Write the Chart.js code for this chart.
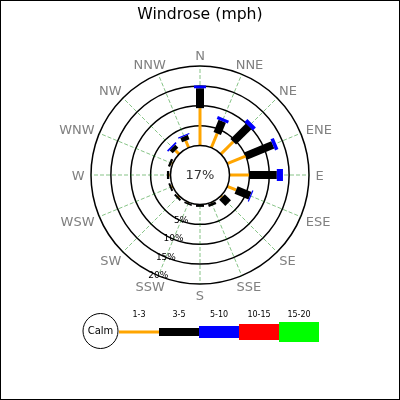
<!DOCTYPE html>
<html>
<head>
<meta charset="utf-8">
<script src="https://cdn.jsdelivr.net/npm/chart.js@4.4.1/dist/chart.umd.min.js"></script>
<style>
  html, body { margin: 0; padding: 0; background: #fff; }
  canvas { display: block; }
</style>
</head>
<body>
<canvas id="c" width="400" height="400"></canvas>
<script>
// ---- data ----
const directions = ['N','NNE','NE','ENE','E','ESE','SE','SSE','S','SSW','SW','WSW','W','WNW','NW','NNW'];
const speedBins = ['1-3','3-5','5-10','10-15','15-20'];
const speed1to3   = [9.4, 3.9, 4.4, 5.0, 4.9, 2.4, 0.4, 0.2, 0.1, 0.2, 0.3, 0.3, 0.3, 0.3, 1.3, 1.9];
const speed3to5   = [5.0, 3.3, 5.5, 7.4, 7.0, 3.8, 2.2, 0.7, 0.5, 0.4, 0.5, 0.5, 0.6, 0.6, 1.1, 1.2];
const speed5to10  = [0.7, 0.8, 1.05, 0.9, 1.55, 0.3, 0, 0, 0, 0, 0, 0, 0, 0, 0.4, 0.3];
const speed10to15 = [0, 0, 0, 0, 0, 0, 0, 0, 0, 0, 0, 0, 0, 0, 0, 0];
const speed15to20 = [0, 0, 0, 0, 0, 0, 0, 0, 0, 0, 0, 0, 0, 0, 0, 0];
const calmPercent = 17;
const tickValues = [5, 10, 15, 20];
const tickLabels = ['5%', '10%', '15%', '20%'];

// ---- styles ----
const binSeries = [speed1to3, speed3to5, speed5to10, speed10to15, speed15to20];
const binColors = ['#ffa500', '#000000', '#0000ff', '#ff0000', '#00ff00'];
const binWidths = [3, 8, 12, 16, 20];
const FONT = "'DejaVu Sans', sans-serif";

const totals = directions.map((d, i) => binSeries.reduce((a, s) => a + s[i], 0));

const windrosePlugin = {
  id: 'windrose',
  beforeDraw(chart) {
    const ctx = chart.ctx;
    ctx.save();
    ctx.fillStyle = '#fff';
    ctx.fillRect(0, 0, chart.width, chart.height);
    ctx.restore();
  },
  afterDatasetsDraw(chart) {
    const ctx = chart.ctx;
    const s = chart.scales.r;
    const cx = s.xCenter, cy = s.yCenter;
    ctx.save();

    // stacked bars
    ctx.lineCap = 'butt';
    directions.forEach((d, i) => {
      let cum = 0;
      binSeries.forEach((series, k) => {
        const v = series[i];
        if (v > 0) {
          const p0 = s.getPointPositionForValue(i, cum);
          const p1 = s.getPointPositionForValue(i, cum + v);
          ctx.beginPath();
          ctx.moveTo(p0.x, p0.y);
          ctx.lineTo(p1.x, p1.y);
          ctx.lineWidth = binWidths[k];
          ctx.strokeStyle = binColors[k];
          ctx.stroke();
        }
        cum += v;
      });
    });

    // calm circle
    const rCalm = s.getDistanceFromCenterForValue(0);
    ctx.beginPath();
    ctx.arc(cx, cy, rCalm, 0, Math.PI * 2);
    ctx.fillStyle = '#fff';
    ctx.fill();
    ctx.lineWidth = 1.5;
    ctx.strokeStyle = '#000';
    ctx.stroke();

    ctx.fillStyle = '#333';
    ctx.font = '13px ' + FONT;
    ctx.textAlign = 'center';
    ctx.textBaseline = 'middle';
    ctx.fillText(calmPercent + '%', cx, cy + 1);

    // tick labels along SSW
    ctx.font = '9px ' + FONT;
    ctx.fillStyle = '#000';
    const sswIndex = directions.indexOf('SSW');
    tickValues.forEach((v, k) => {
      const p = s.getPointPositionForValue(sswIndex, v);
      ctx.fillText(tickLabels[k], p.x, p.y);
    });

    // direction labels
    ctx.font = '13px ' + FONT;
    ctx.fillStyle = '#808080';
    ctx.textBaseline = 'alphabetic';
    const R = s.drawingArea + 6.5;
    const capH = 9.5;
    directions.forEach((d, i) => {
      const p = s.getPointPosition(i, R);
      const sx = (p.x - cx) / R, sy = (cy - p.y) / R;
      const w = ctx.measureText(d).width;
      const x = p.x + sx * w / 2;
      const y = p.y - sy * capH / 2;
      ctx.fillText(d, x, y + capH / 2);
    });

    // legend
    const ly = 332;
    ctx.beginPath();
    ctx.arc(100.5, 331, 17.5, 0, Math.PI * 2);
    ctx.fillStyle = '#fff';
    ctx.fill();
    ctx.lineWidth = 1;
    ctx.strokeStyle = '#000';
    ctx.stroke();
    ctx.fillStyle = '#000';
    ctx.font = '10px ' + FONT;
    ctx.textBaseline = 'middle';
    ctx.fillText('Calm', 100.5, 331.5);
    ctx.font = '8px ' + FONT;
    speedBins.forEach((lab, k) => {
      const x0 = 119 + k * 40, x1 = x0 + 40;
      ctx.beginPath();
      ctx.moveTo(x0, ly);
      ctx.lineTo(x1, ly);
      ctx.lineWidth = binWidths[k];
      ctx.strokeStyle = binColors[k];
      ctx.stroke();
      ctx.fillStyle = '#000';
      ctx.fillText(lab, (x0 + x1) / 2, 315);
    });

    // frame
    ctx.lineWidth = 1;
    ctx.strokeStyle = '#000';
    ctx.strokeRect(0.5, 0.5, chart.width - 1, chart.height - 1);
    ctx.restore();
  }
};

new Chart(document.getElementById('c').getContext('2d'), {
  type: 'radar',
  data: {
    labels: directions,
    datasets: [{
      data: totals,
      showLine: false,
      pointRadius: 0,
      borderWidth: 0,
      fill: false,
      backgroundColor: 'rgba(0,0,0,0)',
      borderColor: 'rgba(0,0,0,0)'
    }]
  },
  options: {
    responsive: false,
    animation: false,
    layout: { padding: { left: 91, right: 91, top: 0, bottom: 116 } },
    plugins: {
      legend: { display: false },
      tooltip: { enabled: false },
      title: {
        display: true,
        text: 'Windrose (mph)',
        color: '#000',
        font: { family: FONT, size: 15.7, weight: 'normal', lineHeight: 1.2 },
        padding: { top: 6, bottom: 41.16 }
      }
    },
    scales: {
      r: {
        min: -7.42,
        max: 20,
        ticks: { display: false },
        pointLabels: { display: false },
        grid: { circular: true, color: '#000', lineWidth: 1.5 },
        angleLines: { display: true, color: 'rgba(0,128,0,0.6)', lineWidth: 0.8, borderDash: [4, 2] },
        afterBuildTicks: (scale) => { scale.ticks = tickValues.map(v => ({ value: v })); }
      }
    }
  },
  plugins: [windrosePlugin]
});
</script>
</body>
</html>
